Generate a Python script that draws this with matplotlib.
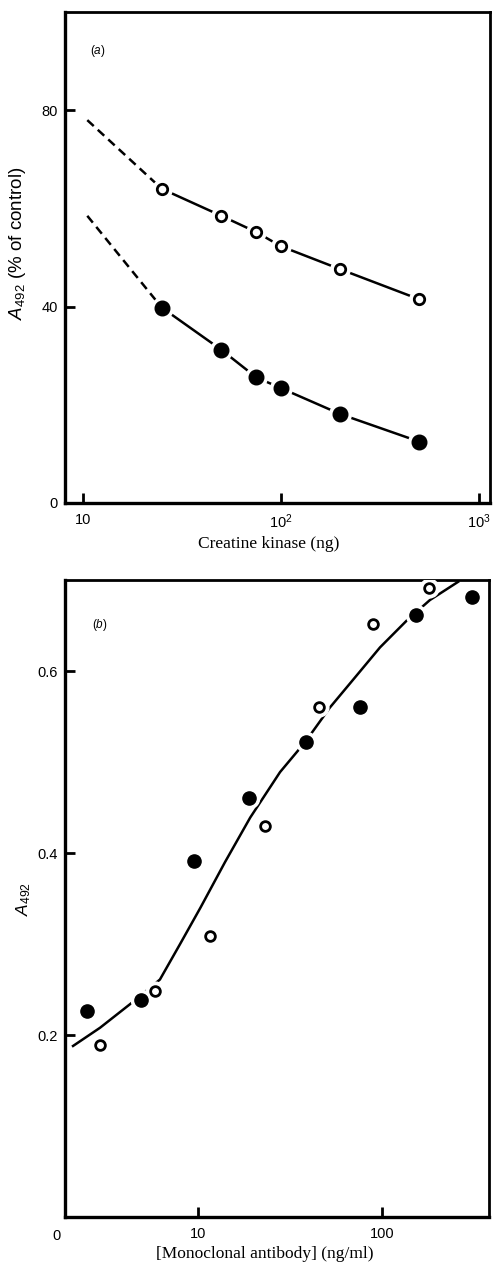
import matplotlib
matplotlib.use("Agg")
import matplotlib.pyplot as plt
import matplotlib.ticker as mticker
import matplotlib.transforms as mtransforms

plt.rcParams['font.family'] = ['Liberation Sans', 'DejaVu Sans']
plt.rcParams['mathtext.fontset'] = 'custom'
plt.rcParams['mathtext.rm'] = 'Liberation Sans'
plt.rcParams['mathtext.it'] = 'Liberation Sans:italic'

# (a) inhibition by creatine kinase
ck_ng = [25, 50, 75, 100, 200, 500]
open_a = [64.0, 58.5, 55.2, 52.3, 47.6, 41.5]
filled_a = [39.8, 31.2, 25.6, 23.4, 18.1, 12.5]
# extrapolated (dashed) parts back towards 10 ng
dash_x = [10.5, 25]
dash_open = [78.0, 64.0]
dash_filled = [58.5, 39.8]

# (b) binding vs. monoclonal antibody concentration
mab_filled_x = [2.5, 4.9, 9.5, 18.9, 38.6, 76, 153, 308]
mab_filled_y = [0.226, 0.239, 0.391, 0.460, 0.522, 0.561, 0.662, 0.681]
mab_open_x = [2.93, 5.8, 11.6, 23.1, 45.5, 89, 180]
mab_open_y = [0.189, 0.248, 0.309, 0.430, 0.560, 0.652, 0.691]
# fitted curve, traced as knots
curve_x = [2.09, 2.93, 4.27, 6.2, 7.98, 10.3, 14.0, 19.2, 27.9, 38.2,
           52.1, 71.3, 97.5, 137, 182, 259]
curve_y = [0.188, 0.208, 0.234, 0.261, 0.300, 0.340, 0.390, 0.439, 0.489,
           0.522, 0.560, 0.593, 0.626, 0.656, 0.678, 0.698]

fig = plt.figure(figsize=(4.97, 12.65), dpi=100)
ax1 = fig.add_axes([0.1308, 0.6024, 0.855, 0.388])
ax2 = fig.add_axes([0.1308, 0.0379, 0.853, 0.5036])

lw = 1.8


def marker_with_gap(ax, x, y, filled, size):
    # white halo under each marker to break the line around it
    ax.plot(x, y, 'o', ms=size + 5, color='white', zorder=3)
    if filled:
        ax.plot(x, y, 'o', ms=size, color='black', zorder=4)
    else:
        ax.plot(x, y, 'o', ms=size - 1.5, mfc='white', mec='black',
                mew=2.0, zorder=4)


# ---- panel (a)
ax1.set_xscale('log')
ax1.plot(dash_x, dash_open, color='black', lw=lw, ls=(0, (3.5, 2.2)), zorder=2)
ax1.plot(dash_x, dash_filled, color='black', lw=lw, ls=(0, (3.5, 2.2)), zorder=2)
ax1.plot(ck_ng, open_a, color='black', lw=lw, zorder=2)
ax1.plot(ck_ng, filled_a, color='black', lw=lw, zorder=2)
marker_with_gap(ax1, ck_ng, open_a, False, 9)
marker_with_gap(ax1, ck_ng, filled_a, True, 10.5)
ax1.set_xlim(8.1, 1140)
ax1.set_ylim(0, 100)
ax1.set_yticks([0, 40, 80])
ax1.set_xticks([10, 100, 1000])
ax1.set_xticklabels(['10', '$10^2$', '$10^3$'])
ax1.text(0.059, 0.921, r'($a$)', transform=ax1.transAxes, fontsize=8.5,
         va='center')
ax1.set_xlabel('Creatine kinase (ng)', family='Liberation Serif', fontsize=12.5)
ax1.xaxis.set_label_coords(0.48, -0.068)
ax1.set_ylabel(r'$A_{492}$ (% of control)', fontsize=13.5)
ax1.yaxis.set_label_coords(-0.087, 0.53)

# ---- panel (b)
ax2.set_xscale('log')
ax2.plot(curve_x, curve_y, color='black', lw=lw, zorder=2)
marker_with_gap(ax2, mab_open_x, mab_open_y, False, 8.5)
marker_with_gap(ax2, mab_filled_x, mab_filled_y, True, 9.5)
ax2.set_xlim(1.89, 381)
ax2.set_ylim(0, 0.70)
ax2.set_yticks([0.2, 0.4, 0.6])
ax2.set_yticklabels(['0.2', '0.4', '0.6'])
ax2.set_xticks([10, 100])
ax2.set_xticklabels(['10', '100'])
trans = mtransforms.blended_transform_factory(ax2.transAxes, ax2.transAxes)
ax2.text(-0.02, -0.019, '0', transform=trans, fontsize=10.5,
         ha='center', va='top')
ax2.text(0.064, 0.929, r'($b$)', transform=ax2.transAxes, fontsize=8.5,
         va='center')
ax2.set_xlabel('[Monoclonal antibody] (ng/ml)', family='Liberation Serif',
               fontsize=12.5)
ax2.xaxis.set_label_coords(0.47, -0.046)
ax2.set_ylabel(r'$A_{492}$', fontsize=12.5)
ax2.yaxis.set_label_coords(-0.075, 0.50)

for ax in (ax1, ax2):
    for side in ('left', 'bottom'):
        ax.spines[side].set_linewidth(2.4)
    for side in ('top', 'right'):
        ax.spines[side].set_linewidth(2.0)
    ax.xaxis.set_minor_locator(mticker.NullLocator())
    ax.yaxis.set_minor_locator(mticker.NullLocator())
    ax.tick_params(direction='in', length=7, width=2.0, labelsize=10.5,
                   top=False, right=False)
    ax.tick_params(axis='x', pad=7)
    ax.tick_params(axis='y', pad=5)

fig.savefig('out.png', dpi=100)
